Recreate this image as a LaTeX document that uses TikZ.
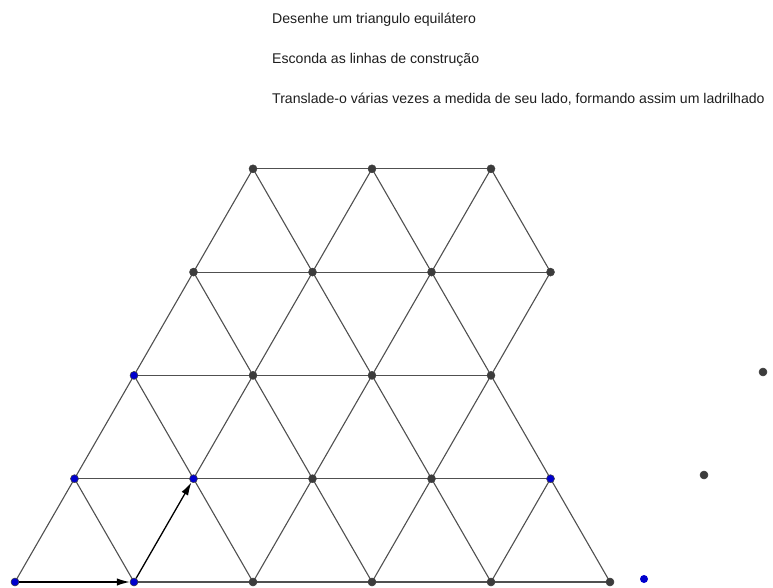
\documentclass[tikz,border=0pt]{standalone}
\usepackage{fontspec}
\setmainfont{Liberation Sans}
\usetikzlibrary{arrows.meta,backgrounds}
\definecolor{ptblue}{RGB}{0,0,205}
\definecolor{ptgray}{RGB}{60,60,60}
\definecolor{edgecol}{RGB}{80,80,80}
\definecolor{txtcol}{RGB}{30,30,30}
\begin{document}
\begin{tikzpicture}[x=1pt,y=-1pt,
  pt/.style={circle,inner sep=0pt,minimum size=8pt,draw=black!75,line width=0.5pt},
  bpt/.style={pt,fill=ptblue},
  gpt/.style={pt,fill=ptgray},
  lonebpt/.style={circle,inner sep=0pt,minimum size=8pt,fill=ptblue},
  seg/.style={draw=edgecol,line width=1.1pt},
  vec/.style={draw=black,line width=1.3pt,-{Latex[length=13pt,width=7.5pt]}},
  txt/.style={anchor=base west,inner sep=0pt,text=txtcol,font=\fontsize{14.1}{16}\selectfont}]
\useasboundingbox (0,0) rectangle (773,588);

% texts
\node[txt] (t1) at (272,23.5) {Desenhe um triangulo equilátero};
\node[txt] (t2) at (272,63.5) {Esconda as linhas de construção};
\node[txt] (t3) at (272,103.5) {Translade-o várias vezes a medida de seu lado, formando assim um ladrilhado};

% lattice points: row k, column j at x = 15+59.5k+119j, y = 582-103.3k
\node[bpt] (p00) at (15,582) {};
\node[bpt] (p01) at (134,582) {};
\node[gpt] (p02) at (253,582) {};
\node[gpt] (p03) at (372,582) {};
\node[gpt] (p04) at (491,582) {};
\node[gpt] (p05) at (610,582) {};

\node[bpt] (p10) at (74.5,478.7) {};
\node[bpt] (p11) at (193.5,478.7) {};
\node[gpt] (p12) at (312.5,478.7) {};
\node[gpt] (p13) at (431.5,478.7) {};
\node[bpt] (p14) at (550.5,478.7) {};

\node[bpt] (p20) at (134,375.4) {};
\node[gpt] (p21) at (253,375.4) {};
\node[gpt] (p22) at (372,375.4) {};
\node[gpt] (p23) at (491,375.4) {};

\node[gpt] (p30) at (193.5,272.1) {};
\node[gpt] (p31) at (312.5,272.1) {};
\node[gpt] (p32) at (431.5,272.1) {};
\node[gpt] (p33) at (550.5,272.1) {};

\node[gpt] (p40) at (253,168.8) {};
\node[gpt] (p41) at (372,168.8) {};
\node[gpt] (p42) at (491,168.8) {};

% loose points
\node[lonebpt] (q1) at (644,579) {};
\node[gpt] (q2) at (704,475) {};
\node[gpt] (q3) at (763,372) {};

\begin{scope}[on background layer]
  \fill[white] (0,0) rectangle (773,588);
  % horizontal sides
  \foreach \a/\b in {p01/p02,p02/p03,p03/p04,p04/p05,
                     p10/p11,p11/p12,p12/p13,p13/p14,
                     p20/p21,p21/p22,p22/p23,
                     p30/p31,p31/p32,p32/p33,
                     p40/p41,p41/p42}
    \draw[seg] (\a.center) -- (\b.center);
  % slanted sides
  \foreach \a/\b in {p10/p00,p10/p01,p11/p02,p12/p02,p12/p03,p13/p03,p13/p04,p14/p04,p14/p05,
                     p20/p10,p20/p11,p21/p11,p21/p12,p22/p12,p22/p13,p23/p13,p23/p14,
                     p30/p20,p30/p21,p31/p21,p31/p22,p32/p22,p32/p23,p33/p23,
                     p40/p30,p40/p31,p41/p31,p41/p32,p42/p32,p42/p33}
    \draw[seg] (\a.center) -- (\b.center);
\end{scope}

% translation vectors
\draw[vec] (p00) -- (p01);
\draw[vec] (p01) -- (p11);
\end{tikzpicture}
\end{document}
